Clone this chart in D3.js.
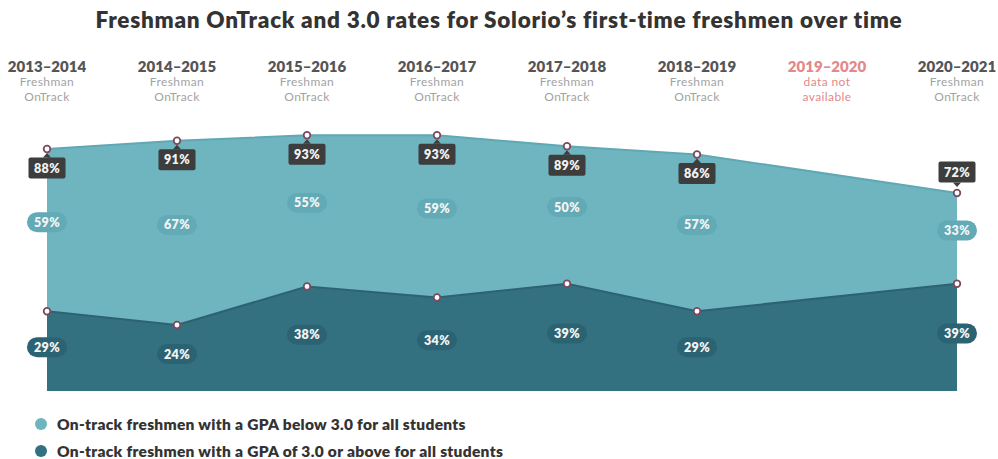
<!DOCTYPE html>
<html><head><meta charset="utf-8">
<script src="https://cdn.jsdelivr.net/npm/d3@7"></script>
<style>
body{margin:0;background:#fff;}
svg{display:block;font-family:Lato,"Open Sans",sans-serif;}
</style></head>
<body><svg id="c" width="998" height="459"></svg>
<script>
const years = ["2013–2014","2014–2015","2015–2016","2016–2017","2017–2018","2018–2019","2019–2020","2020–2021"];
const subLabels = [["Freshman","OnTrack"],["Freshman","OnTrack"],["Freshman","OnTrack"],["Freshman","OnTrack"],["Freshman","OnTrack"],["Freshman","OnTrack"],["data not","available"],["Freshman","OnTrack"]];
const available = [true,true,true,true,true,true,false,true];
const onTrackTotal = [88,91,93,93,89,86,null,72];
const belowGPA3 = [59,67,55,59,50,57,null,33];
const aboveGPA3 = [29,24,38,34,39,29,null,39];
const legendLabels = ["On-track freshmen with a GPA below 3.0 for all students","On-track freshmen with a GPA of 3.0 or above for all students"];
const title = "Freshman OnTrack and 3.0 rates for Solorio’s first-time freshmen over time";

const colLight = "#6fb5c0", colDark = "#347180";
const svg = d3.select("#c");

const x = d3.scalePoint().domain(d3.range(years.length)).range([47,957]);
const y = d3.scaleLinear().domain([0,100]).range([391,116]);

const pts = d3.range(years.length).filter(i => available[i]).map(i => ({i, total:onTrackTotal[i], below:belowGPA3[i], above:aboveGPA3[i]}));

// title
svg.append("text").attr("x",499).attr("y",28).attr("text-anchor","middle")
  .attr("font-size",22.5).attr("font-weight",800).attr("letter-spacing",0.75).attr("fill","#333").text(title);

// headers
const hdr = svg.append("g");
years.forEach((yr,i)=>{
  const c = available[i] ? "#555" : "#e28a8a";
  const c2 = available[i] ? "#a3a3a3" : "#e28a8a";
  hdr.append("text").attr("x",x(i)).attr("y",72).attr("text-anchor","middle")
    .attr("font-size",15).attr("font-weight",800).attr("fill",c).text(yr);
  subLabels[i].forEach((s,k)=>{
    hdr.append("text").attr("x",x(i)).attr("y",86+k*15).attr("text-anchor","middle")
      .attr("font-size",12).attr("letter-spacing",0.4).attr("fill",c2).text(s);
  });
});

// areas
const areaLight = d3.area().x(d=>x(d.i)).y0(d=>y(d.above)).y1(d=>y(d.total));
const areaDark = d3.area().x(d=>x(d.i)).y0(y(0)).y1(d=>y(d.above));
svg.append("path").datum(pts).attr("d",areaLight).attr("fill",colLight);
svg.append("path").datum(pts).attr("d",areaDark).attr("fill",colDark);
svg.append("path").datum(pts).attr("d",d3.line().x(d=>x(d.i)).y(d=>y(d.total)))
  .attr("fill","none").attr("stroke","#5fa8b4").attr("stroke-width",2);
svg.append("path").datum(pts).attr("d",d3.line().x(d=>x(d.i)).y(d=>y(d.above)))
  .attr("fill","none").attr("stroke","#2d6272").attr("stroke-width",2);

// pills
function pill(cx, cy, txt, fill){
  const g = svg.append("g");
  g.append("rect").attr("x",cx-20).attr("y",cy-10).attr("width",40).attr("height",20)
    .attr("rx",10).attr("fill",fill);
  g.append("text").attr("x",cx).attr("y",cy+4.5).attr("text-anchor","middle")
    .attr("font-size",12.5).attr("font-weight",800).attr("letter-spacing",0.3).attr("fill","#f4f4f4").text(txt);
}
pts.forEach(d=>{
  const mid = (y(d.total)+y(d.above))/2 - 8;
  pill(x(d.i), mid, d.below+"%", "#62aab6");
  const mid2 = (y(d.above)+y(0))/2 - 4;
  pill(x(d.i), mid2, d.above+"%", "#2c6373");
});

// total tooltips
pts.forEach((d,k)=>{
  const cx = x(d.i), cy = y(d.total);
  const last = k === pts.length-1;
  const by = last ? cy-21 : cy+19;
  const g = svg.append("g");
  g.append("rect").attr("x",cx-18.5).attr("y",by-10.5).attr("width",37).attr("height",21)
    .attr("rx",2).attr("fill","#3d3d3d");
  if(last){
    g.append("path").attr("d",`M${cx-4},${by+10.5}L${cx},${by+15}L${cx+4},${by+10.5}Z`).attr("fill","#3d3d3d");
  } else {
    g.append("path").attr("d",`M${cx-4},${by-10.5}L${cx},${by-15}L${cx+4},${by-10.5}Z`).attr("fill","#3d3d3d");
  }
  g.append("text").attr("x",cx).attr("y",by+4.5).attr("text-anchor","middle")
    .attr("font-size",12.5).attr("font-weight",800).attr("letter-spacing",0.3).attr("fill","#f2f2f2").text(d.total+"%");
});

// dots
pts.forEach(d=>{
  [d.total,d.above].forEach(v=>{
    svg.append("circle").attr("cx",x(d.i)).attr("cy",y(v)).attr("r",3.3)
      .attr("fill","#fff").attr("stroke","#7b4a5f").attr("stroke-width",1.8);
  });
});

// legend
const leg = svg.append("g");
[colLight,colDark].forEach((c,k)=>{
  leg.append("circle").attr("cx",41).attr("cy",424+k*27).attr("r",6).attr("fill",c);
  leg.append("text").attr("x",57).attr("y",429.5+k*27).attr("font-size",15.5).attr("font-weight",800)
    .attr("letter-spacing",0.3).attr("fill","#333").text(legendLabels[k]);
});
</script></body></html>
